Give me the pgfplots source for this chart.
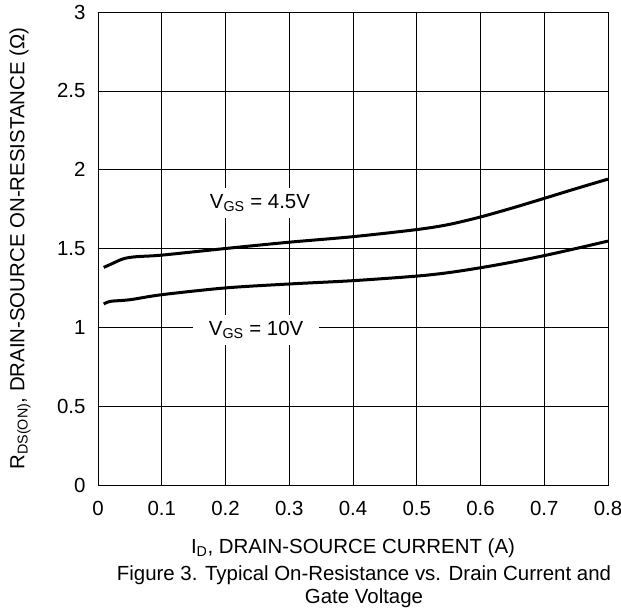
\documentclass[border=0pt]{standalone}
\usepackage{pgfplots}
\pgfplotsset{compat=1.18}
\usepackage{fontspec}
\setmainfont{Liberation Sans}
\begin{document}
\begin{tikzpicture}[font=\fontsize{20.5}{23}\selectfont]
\path[use as bounding box] (-98bp,-128bp) rectangle (523bp,485bp);
\begin{axis}[
  scale only axis,
  width=510bp, height=473bp,
  at={(0,0)}, anchor=south west,
  xmin=0, xmax=0.8, ymin=0, ymax=3,
  xtick={0,0.1,0.2,0.3,0.4,0.5,0.6,0.7,0.8},
  ytick={0,0.5,1,1.5,2,2.5,3},
  /pgf/number format/assume math mode=true,
  /pgf/number format/fixed,
  grid=major,
  grid style={black, line width=0.6pt},
  axis line style={black, line width=0.8pt},
  major tick length=0pt,
  yticklabel style={xshift=-9bp},
  xticklabel style={yshift=-13bp},
  xlabel={I\textsubscript{D}, DRAIN-SOURCE CURRENT (A)},
  ylabel={R\textsubscript{DS(ON)}, DRAIN-SOURCE ON-RESISTANCE (Ω)},
  xlabel style={at={(axis description cs:0.5,-0.133)}, anchor=center},
  ylabel style={at={(axis description cs:-0.153,0.5)}, anchor=center},
  clip=false,
]
\addplot[black, line width=3bp, smooth] coordinates {
(0.009,1.38) (0.02,1.40) (0.04,1.435) (0.06,1.448) (0.1,1.458) (0.2,1.50) (0.3,1.54) (0.4,1.575) (0.5,1.62) (0.55,1.652) (0.6,1.70) (0.65,1.757) (0.7,1.818) (0.75,1.88) (0.8,1.94)
};
\addplot[black, line width=3bp, smooth] coordinates {
(0.009,1.148) (0.02,1.165) (0.05,1.175) (0.1,1.207) (0.2,1.25) (0.3,1.275) (0.4,1.296) (0.5,1.325) (0.55,1.347) (0.6,1.378) (0.65,1.414) (0.7,1.455) (0.75,1.50) (0.8,1.547)
};
\node[fill=white, inner xsep=10bp, inner ysep=6bp] at (axis cs:0.254,1.788) {V\textsubscript{GS} = 4.5V};
\node[fill=white, inner xsep=16bp, inner ysep=6bp] at (axis cs:0.248,0.983) {V\textsubscript{GS} = 10V};
\end{axis}
\node[align=center] at (266bp,-101.5bp) {Figure 3. Typical On-Resistance vs. Drain Current and\\Gate Voltage};
\end{tikzpicture}
\end{document}
